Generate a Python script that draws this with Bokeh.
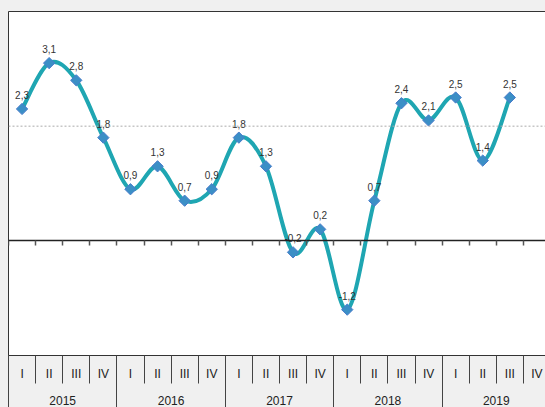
import numpy as np
from bokeh.plotting import figure
from bokeh.models import Range1d, LinearAxis, FixedTicker, Span, ColumnDataSource
from bokeh.core.properties import value
from bokeh.embed import file_html
from bokeh.resources import INLINE

# ---- data ----
years = ["2015", "2016", "2017", "2018", "2019"]
quarters = ["I", "II", "III", "IV"]
values = [2.3, 3.1, 2.8, 1.8, 0.9, 1.3, 0.7, 0.9, 1.8, 1.3,
          -0.2, 0.2, -1.2, 0.7, 2.4, 2.1, 2.5, 1.4, 2.5]
reference_level = 2.0

n_cat = len(years) * len(quarters)
centers = [i + 0.5 for i in range(n_cat)]
bounds = [float(i) for i in range(n_cat + 1)]
year_centers = [len(quarters) * k + len(quarters) / 2 for k in range(len(years))]
year_bounds = [float(len(quarters) * k) for k in range(len(years) + 1)]
quarter_labels = [quarters[i % len(quarters)] for i in range(n_cat)]
xs = centers[:len(values)]
labels = [f"{v:.1f}".replace(".", ",") for v in values]

FONT = "Liberation Sans"
LINE_C = "#1fa6b2"
GRAY_BG = "#f0f0f0"

p = figure(frame_width=542, frame_height=344, output_backend="svg",
           toolbar_location=None, x_axis_location=None, y_axis_location=None,
           x_range=Range1d(0, n_cat), y_range=Range1d(-2, 4),
           min_border_left=8, min_border_right=0, min_border_top=11,
           background_fill_color="white", border_fill_color=GRAY_BG,
           outline_line_color="#333333", outline_line_width=1)
p.grid.visible = False

# reference dotted line
p.add_layout(Span(location=reference_level, dimension="width",
                  line_color="#aaaaaa", line_dash="2 2", line_width=1))

# smooth line as bezier segments through the points
P = np.column_stack([xs, values]).astype(float)
n = len(P)
x0 = []; y0 = []; x1 = []; y1 = []; cx0 = []; cy0 = []; cx1 = []; cy1 = []
for i in range(n - 1):
    a = P[i]; b = P[i + 1]
    prv = P[i - 1] if i > 0 else P[i]
    nxt = P[i + 2] if i + 2 < n else P[i + 1]
    c0 = a + (b - prv) / 6.0
    c1 = b - (nxt - a) / 6.0
    x0.append(a[0]); y0.append(a[1]); x1.append(b[0]); y1.append(b[1])
    cx0.append(c0[0]); cy0.append(c0[1]); cx1.append(c1[0]); cy1.append(c1[1])
bez = ColumnDataSource(dict(x0=x0, y0=y0, x1=x1, y1=y1, cx0=cx0, cy0=cy0, cx1=cx1, cy1=cy1))
p.bezier(x0="x0", y0="y0", x1="x1", y1="y1", cx0="cx0", cy0="cy0", cx1="cx1", cy1="cy1",
         source=bez, line_color=LINE_C, line_width=4, line_cap="round")

# markers
p.scatter(xs, values, marker="square", angle=np.pi / 4, size=8,
          fill_color="#3b8fc6", line_color="#4a7ccb", line_width=1)

# data labels
p.text(xs, values, text=labels, text_font=value(FONT), text_font_size="10px",
       text_align="center", text_baseline="middle", y_offset=-14,
       text_color="#333333")

# quarter row (axis at frame bottom)
ax_q = LinearAxis(ticker=FixedTicker(ticks=centers, minor_ticks=bounds))
ax_q.major_label_overrides = {c: q for c, q in zip(centers, quarter_labels)}
ax_q.axis_line_color = "#333333"
ax_q.major_tick_line_color = None
ax_q.major_tick_out = 0
ax_q.major_tick_in = 0
ax_q.minor_tick_in = 0
ax_q.minor_tick_out = 28
ax_q.minor_tick_line_color = "#444444"
ax_q.major_label_standoff = -17
ax_q.major_label_text_font = FONT
ax_q.major_label_text_font_size = "12px"
ax_q.major_label_text_color = "#222222"
p.add_layout(ax_q, "below")

# year row
ax_y = LinearAxis(ticker=FixedTicker(ticks=year_centers, minor_ticks=year_bounds))
ax_y.major_label_overrides = {c: y for c, y in zip(year_centers, years)}
ax_y.axis_line_color = None
ax_y.major_tick_line_color = None
ax_y.major_tick_out = 0
ax_y.major_tick_in = 0
ax_y.minor_tick_in = 25
ax_y.minor_tick_out = 40
ax_y.minor_tick_line_color = "#444444"
ax_y.major_label_standoff = -28
ax_y.major_label_text_font = FONT
ax_y.major_label_text_font_size = "12px"
ax_y.major_label_text_color = "#222222"
p.add_layout(ax_y, "below")

# zero axis inside the plot
ax_0 = LinearAxis(fixed_location=0, ticker=FixedTicker(ticks=bounds))
ax_0.axis_line_color = "#222222"
ax_0.axis_line_width = 1.5
ax_0.major_tick_in = 0
ax_0.major_tick_out = 5
ax_0.major_tick_line_color = "#555555"
ax_0.major_tick_line_width = 1.5
ax_0.minor_tick_line_color = None
ax_0.major_label_text_font_size = "0px"
ax_0.major_label_text_color = None
p.add_layout(ax_0, "below")

html = file_html(p, INLINE)
html = html.replace("</head>", "<style>html,body{background:#f0f0f0;overflow:hidden}</style></head>", 1)
open("out.html", "w").write(html)
